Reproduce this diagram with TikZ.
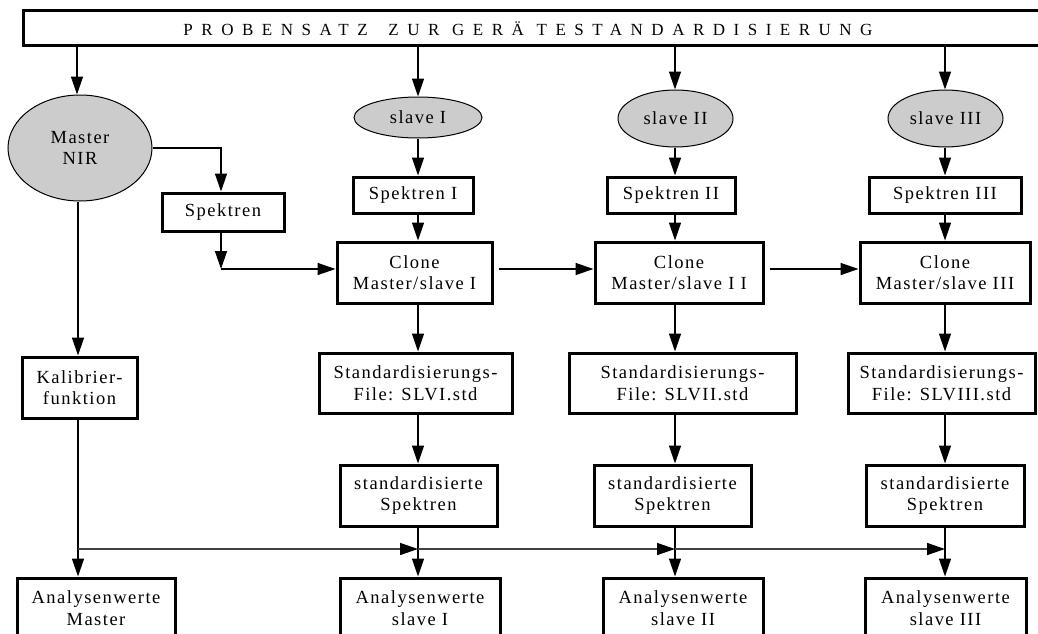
\documentclass[tikz,border=0pt]{standalone}
\usepackage{fontspec}
\setmainfont{Liberation Serif}[LetterSpace=8]
\newfontfamily\titlefont{Liberation Serif}[LetterSpace=50]
\usetikzlibrary{arrows.meta,shapes.geometric}
\definecolor{ellgray}{RGB}{204,204,204}
\definecolor{busgray}{RGB}{64,64,64}
\newcommand{\diaglab}{\fontsize{18.5}{21.5}\selectfont}
\begin{document}
\begin{tikzpicture}[x=1pt,y=-1pt,
  box/.style={draw, line width=3pt, rectangle, inner sep=0pt, align=center, font=\diaglab},
  oval/.style={draw, ellipse, fill=ellgray, line width=1pt, inner sep=0pt, align=center, font=\diaglab},
  arr/.style={line width=1.4pt, -{Triangle[length=18pt,width=12pt]}},
  busarr/.style={line width=1.4pt, draw=busgray, -{Triangle[length=18pt,width=12pt,fill=black,color=black]}}]
\useasboundingbox (0,0) rectangle (1038,634);
\clip (0,0) rectangle (1038,634);
% column coordinates
\coordinate (km) at (77,0);
\coordinate (kk) at (78,0);
\coordinate (kspm) at (221,0);
\coordinate (k1) at (418,0);
\coordinate (k2) at (675,0);
\coordinate (k3) at (945,0);
\coordinate (row) at (0,269);
\coordinate (bus) at (0,549);
% title
\node[box, minimum width=1037, minimum height=35, font=\titlefont\fontsize{17}{18}\selectfont] (title) at (541.5,28.5)
  {PROBENSATZ\hspace{8pt} ZUR GERÄ TESTANDARDISIERUNG\hspace*{27pt}};
% ellipses
\node[oval, minimum width=144, minimum height=106] (master) at (80,148) {Master\\NIR};
\node[oval, minimum width=128, minimum height=41] (s1) at (418,117.5) {slave I};
\node[oval, minimum width=115, minimum height=57] (s2) at (675.5,118.5) {slave II};
\node[oval, minimum width=115, minimum height=57] (s3) at (945.5,118.5) {slave III};
% spectra
\node[box, minimum width=122, minimum height=38] (spm) at (223,212) {Spektren};
\node[box, minimum width=120, minimum height=36] (sp1) at (413,195) {Spektren I};
\node[box, minimum width=128, minimum height=36] (sp2) at (671,195) {Spektren II};
\node[box, minimum width=152, minimum height=36] (sp3) at (945,195) {Spektren III};
% clones
\node[box, minimum width=155, minimum height=61] (c1) at (414.5,272.5) {Clone\\Master/slave I};
\node[box, minimum width=168, minimum height=61] (c2) at (679,272.5) {Clone\\Master/slave I I};
\node[box, minimum width=170, minimum height=61] (c3) at (945,272.5) {Clone\\Master/slave III};
% standardisation files
\node[box, minimum width=115, minimum height=61] (kal) at (79.5,387.5) {Kalibrier-\\funktion};
\node[box, minimum width=193, minimum height=60] (st1) at (415.5,383) {Standardisierungs-\\File: SLVI.std};
\node[box, minimum width=227, minimum height=60] (st2) at (682.5,383) {Standardisierungs-\\File: SLVII.std};
\node[box, minimum width=187, minimum height=60] (st3) at (941.5,383) {Standardisierungs-\\File: SLVIII.std};
% standardised spectra
\node[box, minimum width=157, minimum height=61] (ss1) at (418.5,495.5) {standardisierte\\Spektren};
\node[box, minimum width=157, minimum height=61] (ss2) at (672.5,495.5) {standardisierte\\Spektren};
\node[box, minimum width=158, minimum height=61] (ss3) at (945,495.5) {standardisierte\\Spektren};
% results
\node[box, minimum width=158, minimum height=60] (am) at (96,608) {Analysenwerte\\Master};
\node[box, minimum width=160, minimum height=60] (a1) at (420,608) {Analysenwerte\\slave I};
\node[box, minimum width=160, minimum height=60] (a2) at (683,608) {Analysenwerte\\slave II};
\node[box, minimum width=161, minimum height=60] (a3) at (945.5,608) {Analysenwerte\\slave III};
% connectors from title
\draw[arr] (km |- title.south) -- (km |- master.north);
\draw[arr] (k1 |- title.south) -- (k1 |- s1.north);
\draw[arr] (k2 |- title.south) -- (k2 |- s2.north);
\draw[arr] (k3 |- title.south) -- (k3 |- s3.north);
% slaves to spectra
\draw[arr] (k1 |- s1.south) -- (k1 |- sp1.north);
\draw[arr] (k2 |- s2.south) -- (k2 |- sp2.north);
\draw[arr] (k3 |- s3.south) -- (k3 |- sp3.north);
% master branch
\draw[arr] (master.east) -| (kspm |- spm.north);
\coordinate (corner) at (kspm |- row);
\draw[arr] (kspm |- spm.south) -- (corner);
\draw[arr] (corner) -- (c1.west |- row);
\draw[arr] (kk |- master.south) -- (kk |- kal.north);
% spectra to clones
\draw[arr] (k1 |- sp1.south) -- (k1 |- c1.north);
\draw[arr] (k2 |- sp2.south) -- (k2 |- c2.north);
\draw[arr] (k3 |- sp3.south) -- (k3 |- c3.north);
\draw[arr, shorten <=5pt] (c1.east |- row) -- (c2.west |- row);
\draw[arr, shorten <=5pt] (c2.east |- row) -- (c3.west |- row);
% clones to files
\draw[arr] (k1 |- c1.south) -- (k1 |- st1.north);
\draw[arr] (k2 |- c2.south) -- (k2 |- st2.north);
\draw[arr] (k3 |- c3.south) -- (k3 |- st3.north);
% files to standardised spectra
\draw[arr] (k1 |- st1.south) -- (k1 |- ss1.north);
\draw[arr] (k2 |- st2.south) -- (k2 |- ss2.north);
\draw[arr] (k3 |- st3.south) -- (k3 |- ss3.north);
% to results
\draw[arr] (kk |- kal.south) -- (kk |- am.north);
\draw[arr] (k1 |- ss1.south) -- (k1 |- a1.north);
\draw[arr] (k2 |- ss2.south) -- (k2 |- a2.north);
\draw[arr] (k3 |- ss3.south) -- (k3 |- a3.north);
% calibration bus
\draw[busarr] (kk |- bus) -- (k1 |- bus);
\draw[busarr] (k1 |- bus) -- (k2 |- bus);
\draw[busarr] (k2 |- bus) -- (k3 |- bus);
\end{tikzpicture}
\end{document}
